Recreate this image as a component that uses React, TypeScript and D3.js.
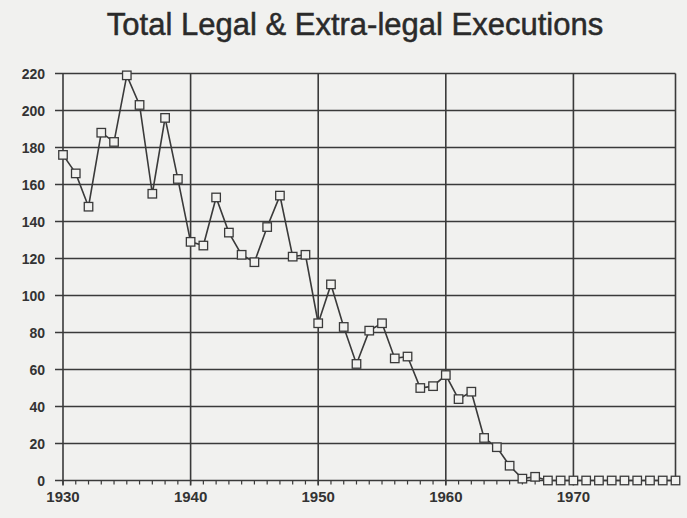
import React from "react";
import * as d3 from "d3";

const years: number[] = [
  1930, 1931, 1932, 1933, 1934, 1935, 1936, 1937, 1938, 1939,
  1940, 1941, 1942, 1943, 1944, 1945, 1946, 1947, 1948, 1949,
  1950, 1951, 1952, 1953, 1954, 1955, 1956, 1957, 1958, 1959,
  1960, 1961, 1962, 1963, 1964, 1965, 1966, 1967, 1968, 1969,
  1970, 1971, 1972, 1973, 1974, 1975, 1976, 1977, 1978,
];
const executions: number[] = [
  176, 166, 148, 188, 183, 219, 203, 155, 196, 163,
  129, 127, 153, 134, 122, 118, 137, 154, 121, 122,
  85, 106, 83, 63, 81, 85, 66, 67, 50, 51,
  57, 44, 48, 23, 18, 8, 1, 2, 0, 0,
  0, 0, 0, 0, 0, 0, 0, 0, 0,
];
const yTicks: number[] = [0, 20, 40, 60, 80, 100, 120, 140, 160, 180, 200, 220];
const xTicks: number[] = [1930, 1940, 1950, 1960, 1970];
const title = "Total Legal & Extra-legal Executions";

const W = 687;
const H = 518;
const bg = "#f1f1ef";
const ink = "#3a3a3a";

export default function App() {
  const x = d3.scaleLinear().domain([1930, 1978]).range([63, 675.5]);
  const y = d3.scaleLinear().domain([0, 220]).range([480.5, 73.5]);
  const line = d3
    .line<number>()
    .x((_, i) => x(years[i]))
    .y((d) => y(d));
  const font = "'Liberation Sans', Arial, Helvetica, sans-serif";
  const ms = 8.5;
  return (
    <svg
      width={W}
      height={H}
      style={{ position: "absolute", left: 0, top: 0, background: bg }}
    >
      <rect x={0} y={0} width={W} height={H} fill={bg} />
      <text
        x={355}
        y={35}
        textAnchor="middle"
        fontFamily={font}
        fontSize={31}
        fill="#2a2a2a"
        stroke="#2a2a2a"
        strokeWidth={0.5}
      >
        {title}
      </text>
      {yTicks.map((t) => (
        <g key={"y" + t}>
          <line
            x1={55}
            x2={x(1978)}
            y1={y(t)}
            y2={y(t)}
            stroke={ink}
            strokeWidth={1.6}
          />
          <text
            x={45}
            y={y(t) + 5}
            textAnchor="end"
            fontFamily={font}
            fontWeight="bold"
            fontSize={14}
            fill="#333"
          >
            {t}
          </text>
        </g>
      ))}
      {xTicks.map((t) => (
        <g key={"x" + t}>
          <line
            x1={x(t)}
            x2={x(t)}
            y1={y(220)}
            y2={y(0) + 5}
            stroke={ink}
            strokeWidth={1.6}
          />
          <text
            x={x(t)}
            y={502}
            textAnchor="middle"
            fontFamily={font}
            fontWeight="bold"
            fontSize={15}
            fill="#333"
          >
            {t}
          </text>
        </g>
      ))}
      <line
        x1={x(1978)}
        x2={x(1978)}
        y1={y(220)}
        y2={y(0)}
        stroke={ink}
        strokeWidth={1.6}
      />
      {years.map((yr) => (
        <line
          key={"t" + yr}
          x1={x(yr)}
          x2={x(yr)}
          y1={y(0)}
          y2={y(0) + 4}
          stroke={ink}
          strokeWidth={1.2}
        />
      ))}
      <path
        d={line(executions) || ""}
        fill="none"
        stroke={ink}
        strokeWidth={1.6}
      />
      {executions.map((v, i) => (
        <rect
          key={"m" + i}
          x={x(years[i]) - ms / 2}
          y={y(v) - ms / 2}
          width={ms}
          height={ms}
          fill={bg}
          stroke={ink}
          strokeWidth={1.3}
        />
      ))}
    </svg>
  );
}
